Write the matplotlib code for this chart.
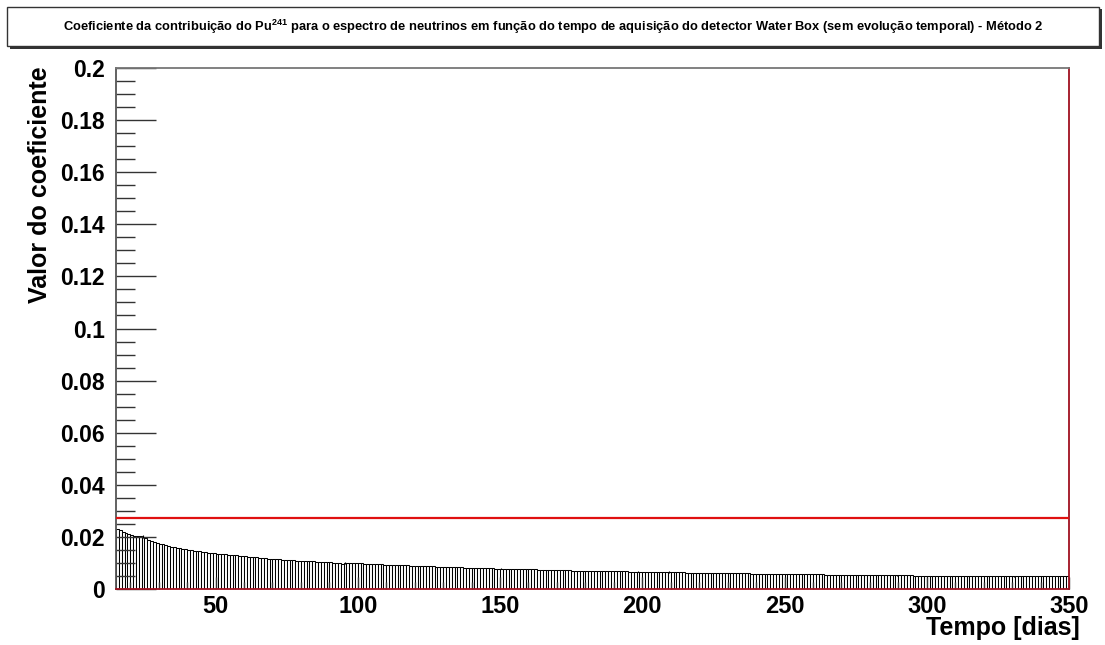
import matplotlib
matplotlib.use("Agg")
import matplotlib.pyplot as plt
from matplotlib.patches import Rectangle
from matplotlib.ticker import MultipleLocator, FormatStrFormatter
import numpy as np

# coefficient per 1-day bin, first bin starts at day 15
first_day = 15
coef = [
    0.0232, 0.0226, 0.0220, 0.0215, 0.0211,
    0.0207, 0.0205, 0.0203, 0.0202, 0.0201, 0.0195, 0.0190, 0.0186, 0.0182, 0.0178,
    0.0174, 0.0171, 0.0168, 0.0165, 0.0163, 0.0160, 0.0158, 0.0156, 0.0154, 0.0152,
    0.0150, 0.0148, 0.0147, 0.0145, 0.0144, 0.0142, 0.0141, 0.0140, 0.0138, 0.0137,
    0.0136, 0.0135, 0.0134, 0.0133, 0.0132, 0.0131, 0.0130, 0.0129, 0.0128, 0.0127,
    0.0126, 0.0124, 0.0123, 0.0122, 0.0121, 0.0120, 0.0119, 0.0118, 0.0117, 0.0116,
    0.0115, 0.0115, 0.0114, 0.0113, 0.0112, 0.0112, 0.0111, 0.0110, 0.0109, 0.0109,
    0.0108, 0.0107, 0.0107, 0.0106, 0.0106, 0.0105, 0.0104, 0.0104, 0.0103, 0.0103,
    0.0102, 0.0101, 0.0100, 0.0098, 0.0096, 0.0099, 0.0100, 0.0100, 0.0099, 0.0099,
    0.0098, 0.0098, 0.0097, 0.0097, 0.0096, 0.0096, 0.0095, 0.0096, 0.0095, 0.0094,
    0.0094, 0.0093, 0.0093, 0.0092, 0.0092, 0.0091, 0.0091, 0.0091, 0.0090, 0.0090,
    0.0090, 0.0089, 0.0089, 0.0088, 0.0088, 0.0087, 0.0087, 0.0086, 0.0086, 0.0085,
    0.0085, 0.0085, 0.0084, 0.0084, 0.0083, 0.0083, 0.0083, 0.0082, 0.0082, 0.0081,
    0.0081, 0.0081, 0.0080, 0.0080, 0.0080, 0.0079, 0.0079, 0.0079, 0.0078, 0.0078,
    0.0078, 0.0077, 0.0077, 0.0077, 0.0077, 0.0076, 0.0076, 0.0076, 0.0076, 0.0075,
    0.0075, 0.0075, 0.0075, 0.0074, 0.0074, 0.0074, 0.0074, 0.0073, 0.0073, 0.0073,
    0.0073, 0.0072, 0.0072, 0.0072, 0.0072, 0.0071, 0.0071, 0.0071, 0.0071, 0.0070,
    0.0070, 0.0070, 0.0070, 0.0070, 0.0069, 0.0069, 0.0069, 0.0069, 0.0069, 0.0068,
    0.0068, 0.0068, 0.0068, 0.0068, 0.0068, 0.0067, 0.0067, 0.0067, 0.0067, 0.0067,
    0.0066, 0.0066, 0.0066, 0.0066, 0.0066, 0.0065, 0.0065, 0.0065, 0.0065, 0.0065,
    0.0064, 0.0064, 0.0064, 0.0064, 0.0064, 0.0063, 0.0063, 0.0063, 0.0063, 0.0063,
    0.0062, 0.0062, 0.0062, 0.0062, 0.0062, 0.0062, 0.0061, 0.0061, 0.0061, 0.0061,
    0.0061, 0.0061, 0.0060, 0.0060, 0.0060, 0.0060, 0.0060, 0.0060, 0.0059, 0.0059,
    0.0059, 0.0059, 0.0059, 0.0059, 0.0058, 0.0058, 0.0058, 0.0058, 0.0058, 0.0058,
    0.0057, 0.0057, 0.0057, 0.0057, 0.0057, 0.0057, 0.0057, 0.0056, 0.0056, 0.0056,
    0.0056, 0.0056, 0.0056, 0.0056, 0.0055, 0.0055, 0.0055, 0.0055, 0.0055, 0.0055,
    0.0055, 0.0054, 0.0054, 0.0055, 0.0054, 0.0054, 0.0054, 0.0054, 0.0054, 0.0053,
    0.0053, 0.0053, 0.0053, 0.0053, 0.0053, 0.0053, 0.0053, 0.0052, 0.0052, 0.0052,
    0.0052, 0.0052, 0.0052, 0.0052, 0.0052, 0.0051, 0.0051, 0.0051, 0.0051, 0.0051,
    0.0051, 0.0051, 0.0051, 0.0051, 0.0050, 0.0050, 0.0050, 0.0050, 0.0050, 0.0050,
    0.0050, 0.0050, 0.0050, 0.0050, 0.0050, 0.0049, 0.0049, 0.0050, 0.0049, 0.0049,
    0.0049, 0.0049, 0.0049, 0.0049, 0.0049, 0.0049, 0.0049, 0.0049, 0.0049, 0.0049,
    0.0049, 0.0049, 0.0048, 0.0048, 0.0048, 0.0048, 0.0049, 0.0048, 0.0048, 0.0048,
    0.0048, 0.0048, 0.0048, 0.0048, 0.0048, 0.0048, 0.0048, 0.0048, 0.0048, 0.0048,
]
# the few error bars that stick out above the bins
err_days = [24, 95, 150, 198, 209, 289, 330]
err_vals = [0.0006, 0.0003, 0.0003, 0.0003, 0.0003, 0.0002, 0.0002]

ref_level = 0.0272
title = ("Coeficiente da contribuição do Pu$^{241}$ para o espectro de neutrinos em função "
         "do tempo de aquisição do detector Water Box (sem evolução temporal) - Método 2")

plt.rcParams['font.family'] = ['Liberation Sans', 'DejaVu Sans']
plt.rcParams['mathtext.fontset'] = 'custom'
plt.rcParams['mathtext.rm'] = 'Liberation Sans:bold'
plt.rcParams['mathtext.it'] = 'Liberation Sans:bold'

fig = plt.figure(figsize=(11.05, 6.45), dpi=100)
ax = fig.add_axes([116/1105, 56/645, 953/1105, 521/645])

days = np.arange(first_day, first_day + len(coef))
ax.bar(days, coef, width=1.0, align='edge', facecolor='white',
       edgecolor='black', linewidth=0.75, zorder=1)
for d, e in zip(err_days, err_vals):
    v = coef[d - first_day]
    ax.errorbar(d + 0.5, v, yerr=e, fmt='none', ecolor='black', elinewidth=0.8,
                capsize=0, zorder=2)

ax.axhline(ref_level, color='#e01010', linewidth=1.6, zorder=3)

ax.set_xlim(15, 350)
ax.set_ylim(0, 0.2)
ax.xaxis.set_major_locator(MultipleLocator(50))
ax.xaxis.set_minor_locator(MultipleLocator(10))
ax.yaxis.set_major_locator(MultipleLocator(0.02))
ax.yaxis.set_minor_locator(MultipleLocator(0.005))
ax.yaxis.set_major_formatter(FormatStrFormatter('%g'))
ax.tick_params(axis='both', which='major', direction='in', length=29, width=1,
               color='#333333', labelsize=16.5, pad=8)
ax.tick_params(axis='both', which='minor', direction='in', length=14, width=1,
               color='#333333')
ax.tick_params(axis='x', which='major', length=9, pad=4, labelsize=17)
ax.tick_params(axis='x', which='minor', length=5)
for lab in ax.get_xticklabels() + ax.get_yticklabels():
    lab.set_fontweight('bold')

ax.spines['left'].set_color('#555555')
ax.spines['top'].set_color('#777777')
ax.spines['right'].set_color('#a01020')
ax.spines['bottom'].set_color('#a01020')
for s in ax.spines.values():
    s.set_linewidth(1.3)

fig.text(40/1105, 1 - 185/645, 'Valor do coeficiente', rotation=90, ha='center',
         va='center', fontsize=18, fontweight='bold')
fig.text(1080/1105, 1 - 628/645, 'Tempo [dias]', ha='right', va='center',
         fontsize=18, fontweight='bold')

# title box with shadow like ROOT
fig.patches.append(Rectangle((10/1105, 596/645), 1092/1105, 40/645, transform=fig.transFigure,
                             facecolor='#333333', edgecolor='none', zorder=0))
fig.patches.append(Rectangle((7/1105, 599/645), 1092/1105, 39/645, transform=fig.transFigure,
                             facecolor='white', edgecolor='#333333', linewidth=1, zorder=1))
fig.text(553/1105, 1 - 27/645, title, ha='center', va='center', fontsize=9.3,
         fontweight='bold', zorder=2)

fig.savefig('out.png', dpi=100, facecolor='white')
